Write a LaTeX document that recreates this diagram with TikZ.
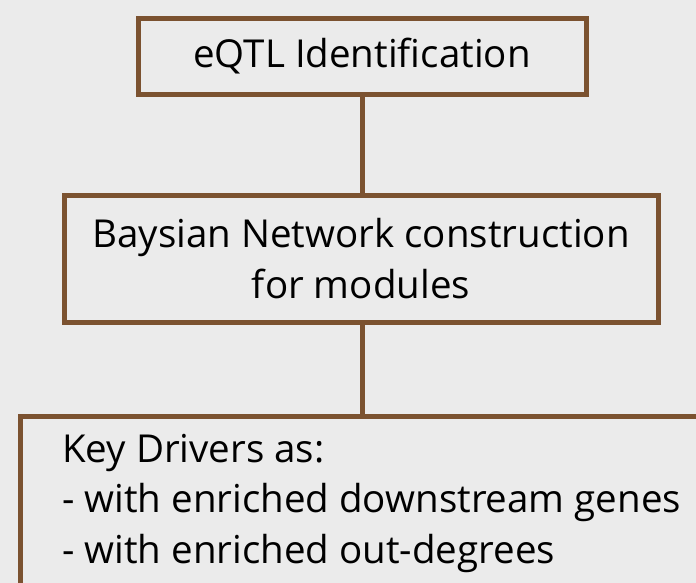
\documentclass[tikz,border=0pt]{standalone}
\usepackage{fontspec}
\setmainfont{Open Sans}
\usepackage{xcolor}
\usetikzlibrary{positioning}
\definecolor{boxbrown}{HTML}{7B5230}
\definecolor{bggray}{HTML}{EBEBEB}
\begin{document}
\begin{tikzpicture}[x=1pt, y=-1pt,
		stage/.style={rectangle, draw=boxbrown, line width=5pt, fill=bggray, align=center, inner sep=0pt},
		link/.style={draw=boxbrown, line width=5pt},
		font=\fontsize{38.5}{50.5}\selectfont]
	\fill[bggray] (0,0) rectangle (696,583);
	\useasboundingbox (0,0) rectangle (696,583);
	\clip (0,0) rectangle (696,583);
	\node (eqtl) [stage, minimum width=448pt, minimum height=76.5pt] at (362,56.5) {eQTL Identification};
	\node (bn) [stage, minimum width=594pt, minimum height=127.5pt] at (361,258.75) {Baysian Network construction\\for modules};
	\node (kd) [stage, anchor=north west, minimum width=720pt, minimum height=220pt] at (18,414) {};
	\node (kdtext) [anchor=north west, align=left, inner sep=0pt, below right=20pt and 44pt of kd.north west] {Key Drivers as:\\- with enriched downstream genes\\- with enriched out-degrees};
	
	\draw [link] (eqtl.south) -- (eqtl.south |- bn.north);
	\draw [link] (eqtl.south |- bn.south) -- (eqtl.south |- kd.north);
\end{tikzpicture}
\end{document}
